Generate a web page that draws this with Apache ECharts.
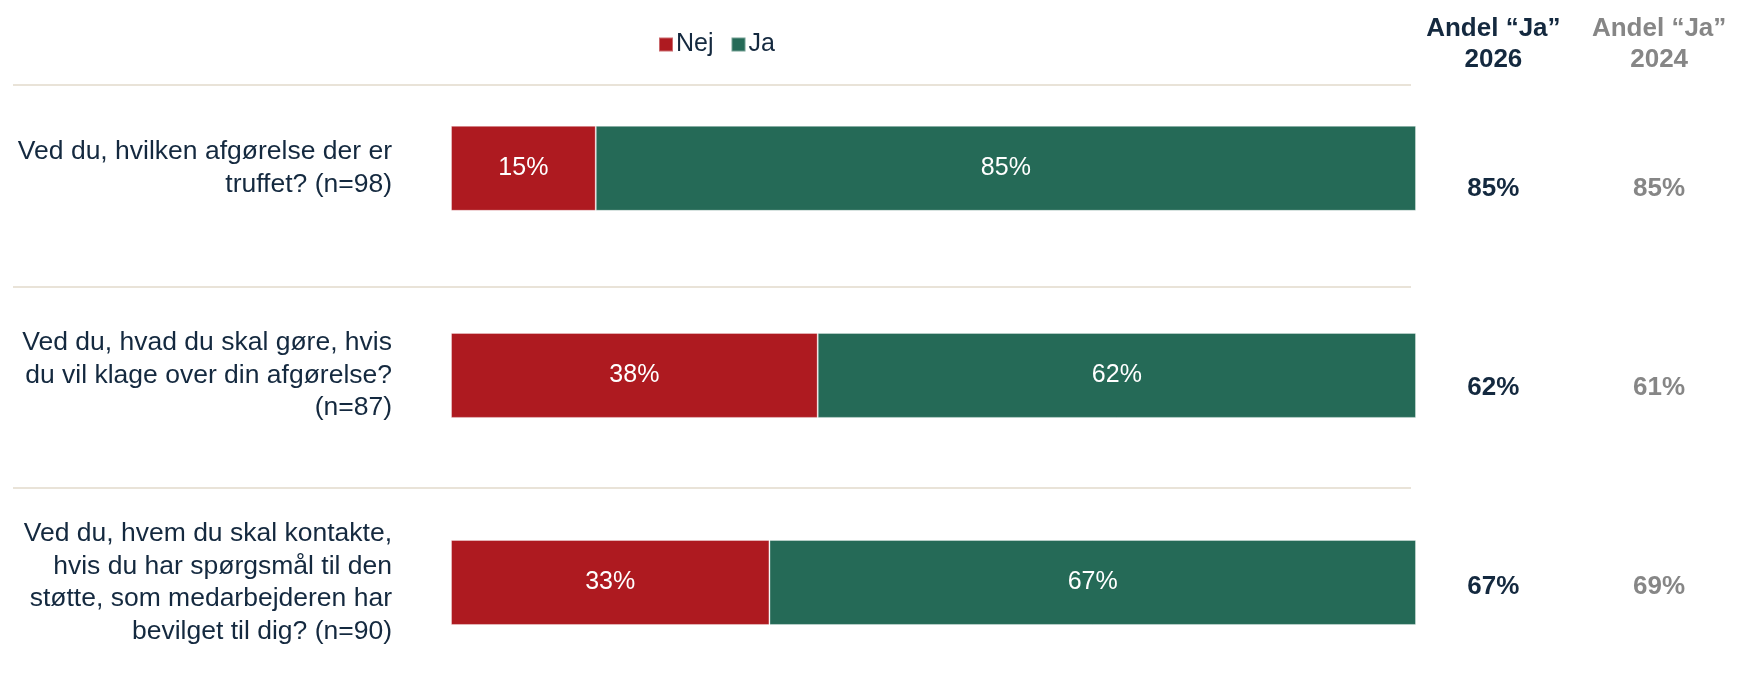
<!DOCTYPE html>
<html>
<head>
<meta charset="utf-8">
<script src="https://cdn.jsdelivr.net/npm/echarts@6/dist/echarts.min.js"></script>
<style>
html,body{margin:0;padding:0;background:#fff;}
#c{width:1742px;height:686px;}
</style>
</head>
<body>
<div id="c"></div>
<script>
const questions = [
  "Ved du, hvilken afgørelse der er\ntruffet? (n=98)",
  "Ved du, hvad du skal gøre, hvis\ndu vil klage over din afgørelse?\n(n=87)",
  "Ved du, hvem du skal kontakte,\nhvis du har spørgsmål til den\nstøtte, som medarbejderen har\nbevilget til dig? (n=90)"
];
const nejValues = [15, 38, 33];
const jaValues = [85, 62, 67];
const years = ["2026", "2024"];
const andelJa2026 = [85, 62, 67];
const andelJa2024 = [85, 61, 69];

const RED = '#ae1a20', GREEN = '#256a57', NAVY = '#14293f', GRAY = '#868686';
const FONT = 'Liberation Sans, Arial, sans-serif';

const chart = echarts.init(document.getElementById('c'), null, {renderer: 'canvas'});

const sepYs = [85, 287, 488];

chart.setOption({
  animation: false,
  backgroundColor: '#ffffff',
  textStyle: {fontFamily: FONT},
  legend: {
    data: ['Nej', 'Ja'],
    left: 653, top: 27,
    itemWidth: 14, itemHeight: 14, itemGap: 17,
    icon: 'rect',
    textStyle: {fontSize: 25, color: NAVY, fontFamily: FONT, padding: [0, 0, 0, -2]}
  },
  grid: [
    {left: 451, right: 326, top: 64.75, bottom: -10.25},
    {left: 1410.5, right: -16.5, top: 89, bottom: -10.25}
  ],
  xAxis: [
    {gridIndex: 0, type: 'value', min: 0, max: 100, show: false},
    {gridIndex: 1, type: 'category', data: years, position: 'top',
      axisLine: {show: false}, axisTick: {show: false}, splitLine: {show: false},
      axisLabel: {
        interval: 0, hideOverlap: false,
        margin: 14, fontSize: 26, fontWeight: 'bold', lineHeight: 31, fontFamily: FONT,
        formatter: v => 'Andel \u201cJa\u201d\n' + v,
        color: (v, i) => (v === '2026' ? NAVY : GRAY)
      }}
  ],
  yAxis: [
    {gridIndex: 0, type: 'category', data: questions, inverse: true,
      axisLine: {show: false}, axisTick: {show: false}, splitLine: {show: false},
      axisLabel: {interval: 0, margin: 59, fontSize: 26.5, lineHeight: 32.5, color: NAVY, align: 'right', fontFamily: FONT}},
    {gridIndex: 1, type: 'category', data: questions, inverse: true, show: false}
  ],
  series: [
    {name: 'Nej', type: 'bar', stack: 's', xAxisIndex: 0, yAxisIndex: 0, barWidth: 85,
      data: nejValues, itemStyle: {color: RED, borderColor: 'rgba(255,255,255,0.35)', borderWidth: 1},
      label: {show: true, position: 'inside', formatter: p => p.value + '%', color: '#fff', fontSize: 25, fontFamily: FONT}},
    {name: 'Ja', type: 'bar', stack: 's', xAxisIndex: 0, yAxisIndex: 0, barWidth: 85,
      data: jaValues, itemStyle: {color: GREEN, borderColor: 'rgba(255,255,255,0.35)', borderWidth: 1},
      label: {show: true, position: 'inside', formatter: p => p.value + '%', color: '#fff', fontSize: 25, fontFamily: FONT}},
    {name: 'Andel 2026', type: 'scatter', xAxisIndex: 1, yAxisIndex: 1, symbolSize: 0,
      itemStyle: {opacity: 1, color: NAVY},
      data: andelJa2026.map((v, i) => [years[0], i, v]),
      label: {show: true, position: 'inside', formatter: p => p.value[2] + '%', color: NAVY, fontSize: 26, fontWeight: 'bold', fontFamily: FONT}},
    {name: 'Andel 2024', type: 'scatter', xAxisIndex: 1, yAxisIndex: 1, symbolSize: 0,
      itemStyle: {opacity: 1, color: GRAY},
      data: andelJa2024.map((v, i) => [years[1], i, v]),
      label: {show: true, position: 'inside', formatter: p => p.value[2] + '%', color: GRAY, fontSize: 26, fontWeight: 'bold', fontFamily: FONT}}
  ],
  graphic: sepYs.map(y => ({
    type: 'line', silent: true,
    shape: {x1: 13, y1: y, x2: 1411, y2: y},
    style: {stroke: '#e9e3d8', lineWidth: 2}
  }))
});
</script>
</body>
</html>
